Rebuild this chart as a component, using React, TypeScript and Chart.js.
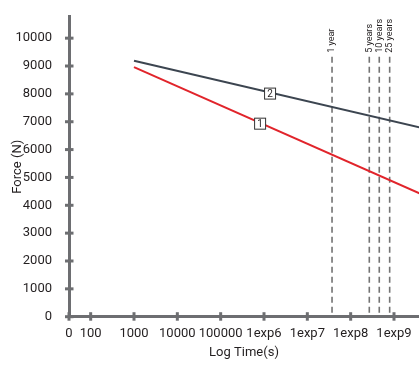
import React, { useEffect, useRef } from "react";
import { Chart, registerables } from "chart.js";

Chart.register(...registerables);

// ---- data ----
const xTickPositions = [1.5, 2, 3, 4, 5, 6, 7, 8, 9];
const xTickLabels = ["0", "100", "1000", "10000", "100000", "1exp6", "1exp7", "1exp8", "1exp9"];
const yTickValues = [0, 1000, 2000, 3000, 4000, 5000, 6000, 7000, 8000, 9000, 10000];

const series2X = [3, 9.6];
const series2Y = [9190, 6790];
const series1X = [3, 9.6];
const series1Y = [8960, 4420];

const seriesLabelText = ["1", "2"];
const seriesLabelX = [5.91, 6.14];
const seriesLabelY = [6930, 8010];

const vLineX = [7.57, 8.43, 8.66, 8.9];
const vLineLabels = ["1 year", "5 years", "10 years", "25 years"];

const FONT = "Roboto, 'Liberation Sans', sans-serif";
const AXIS = "#6d6e71";
const TEXT = "#231f20";

export default function App() {
  const ref = useRef<HTMLCanvasElement | null>(null);
  useEffect(() => {
    document.body.style.margin = "0";
    const canvas = ref.current!;
    const decor = {
      id: "decor",
      beforeDatasetsDraw(chart: any) {
        const { ctx, chartArea, scales } = chart;
        const top = chartArea.top + 40;
        ctx.save();
        ctx.strokeStyle = "#737373";
        ctx.lineWidth = 1.6;
        ctx.setLineDash([6, 4]);
        vLineX.forEach((v) => {
          const x = scales.x.getPixelForValue(v);
          ctx.beginPath();
          ctx.moveTo(x, top);
          ctx.lineTo(x, chartArea.bottom);
          ctx.stroke();
        });
        ctx.setLineDash([]);
        ctx.fillStyle = TEXT;
        ctx.font = `9px ${FONT}`;
        ctx.textAlign = "left";
        ctx.textBaseline = "middle";
        vLineX.forEach((v, i) => {
          const x = scales.x.getPixelForValue(v);
          ctx.save();
          ctx.translate(x, top - 4);
          ctx.rotate(-Math.PI / 2);
          ctx.fillText(vLineLabels[i], 0, 0);
          ctx.restore();
        });
        ctx.restore();
      },
      afterDatasetsDraw(chart: any) {
        const { ctx, scales } = chart;
        ctx.save();
        seriesLabelText.forEach((t, i) => {
          const x = scales.x.getPixelForValue(seriesLabelX[i]);
          const y = scales.y.getPixelForValue(seriesLabelY[i]);
          ctx.fillStyle = "#ffffff";
          ctx.fillRect(x - 5.5, y - 5.5, 11, 11);
          ctx.strokeStyle = "#333333";
          ctx.lineWidth = 1;
          ctx.strokeRect(x - 5.5, y - 5.5, 11, 11);
          ctx.fillStyle = TEXT;
          ctx.font = `10px ${FONT}`;
          ctx.textAlign = "center";
          ctx.textBaseline = "middle";
          ctx.fillText(t, x, y + 0.5);
        });
        ctx.restore();
      },
      afterDraw(chart: any) {
        const { ctx, chartArea, scales } = chart;
        ctx.save();
        ctx.strokeStyle = AXIS;
        ctx.lineWidth = 3;
        scales.y.ticks.forEach((t: any) => {
          const y = scales.y.getPixelForValue(t.value);
          ctx.beginPath();
          ctx.moveTo(chartArea.left - 4, y);
          ctx.lineTo(chartArea.left + 4.5, y);
          ctx.stroke();
        });
        scales.x.ticks.forEach((t: any) => {
          const x = scales.x.getPixelForValue(t.value);
          ctx.beginPath();
          ctx.moveTo(x, chartArea.bottom - 4.5);
          ctx.lineTo(x, chartArea.bottom + 4);
          ctx.stroke();
        });
        ctx.restore();
      },
    };
    const chart = new Chart(canvas, {
      type: "line",
      data: {
        datasets: [
          {
            label: "1",
            data: series1X.map((x, i) => ({ x, y: series1Y[i] })),
            borderColor: "#e1242b",
            borderWidth: 2,
            pointRadius: 0,
            tension: 0,
          },
          {
            label: "2",
            data: series2X.map((x, i) => ({ x, y: series2Y[i] })),
            borderColor: "#3c4550",
            borderWidth: 2,
            pointRadius: 0,
            tension: 0,
          },
        ],
      },
      options: {
        animation: false,
        responsive: false,
        layout: { padding: { top: 8, left: 0, right: 0, bottom: 0 } },
        plugins: { legend: { display: false }, tooltip: { enabled: false } },
        scales: {
          x: {
            type: "linear",
            min: 1.5,
            max: 9.577,
            afterBuildTicks: (s: any) => {
              s.ticks = xTickPositions.map((v) => ({ value: v }));
            },
            afterFit: (s: any) => {
              s.height = 59.3;
            },
            ticks: {
              autoSkip: false,
              maxRotation: 0,
              padding: 1,
              color: TEXT,
              font: { family: FONT, size: 13 },
              callback: (_v: any, i: number) => xTickLabels[i],
            },
            grid: { display: false },
            border: { display: true, color: AXIS, width: 3 },
            title: {
              display: true,
              text: "Log Time(s)",
              color: TEXT,
              font: { family: FONT, size: 13 },
              padding: { top: 0, bottom: 15 },
            },
          },
          y: {
            type: "linear",
            min: 0,
            max: 10767,
            afterBuildTicks: (s: any) => {
              s.ticks = yTickValues.map((v) => ({ value: v }));
            },
            afterFit: (s: any) => {
              s.width = 69;
            },
            ticks: {
              padding: 9,
              color: TEXT,
              font: { family: FONT, size: 13 },
              callback: (v: any) => String(v),
            },
            grid: { display: false },
            border: { display: true, color: AXIS, width: 3 },
            title: {
              display: true,
              text: "Force (N)",
              color: TEXT,
              font: { family: FONT, size: 13 },
              padding: { top: 10, bottom: 0 },
            },
          },
        },
      },
      plugins: [decor],
    });
    return () => chart.destroy();
  }, []);
  return <canvas ref={ref} width={419} height={376} style={{ display: "block" }} />;
}
